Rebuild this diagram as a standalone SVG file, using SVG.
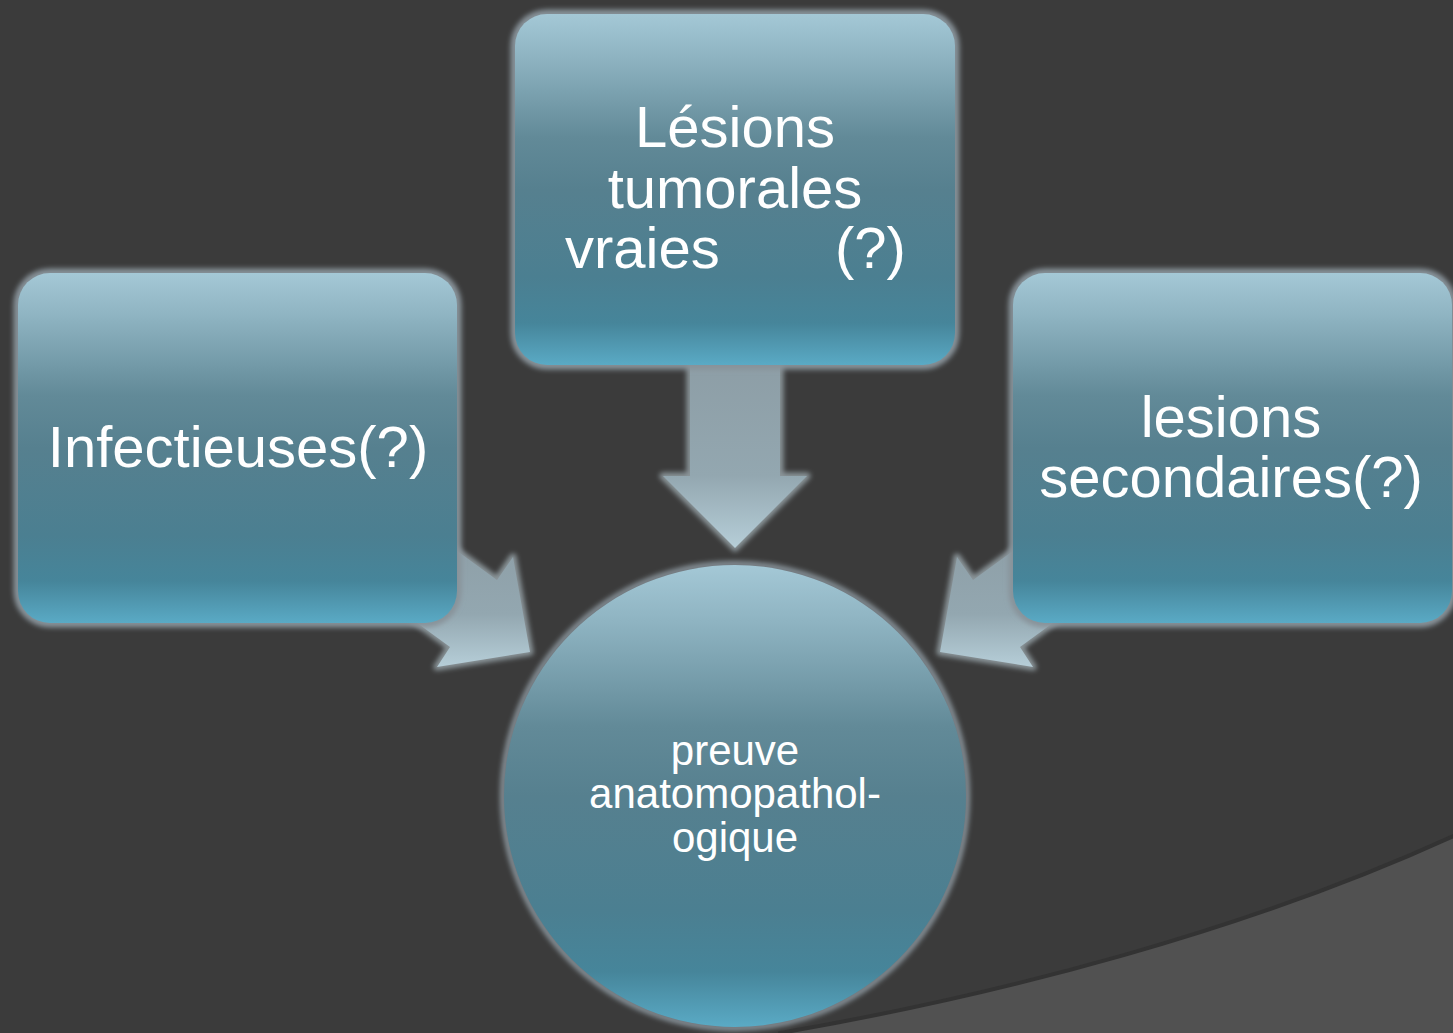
<svg xmlns="http://www.w3.org/2000/svg" width="1453" height="1033" viewBox="0 0 1453 1033">
<defs>
<linearGradient id="nodeGrad" x1="0" y1="0" x2="0" y2="1">
<stop offset="0" stop-color="#a4c8d6"/>
<stop offset="0.12" stop-color="#8fb4c2"/>
<stop offset="0.35" stop-color="#628a98"/>
<stop offset="0.5" stop-color="#56808f"/>
<stop offset="0.75" stop-color="#4b7f91"/>
<stop offset="0.88" stop-color="#46859a"/>
<stop offset="1" stop-color="#5aaac5"/>
</linearGradient>
<linearGradient id="arrowGrad" x1="0" y1="0" x2="0" y2="1">
<stop offset="0" stop-color="#8c9ca4"/>
<stop offset="0.65" stop-color="#93a7b0"/>
<stop offset="1" stop-color="#b6ced8"/>
</linearGradient>
<filter id="glow" x="-10%" y="-10%" width="120%" height="120%">
<feGaussianBlur stdDeviation="2.5"/>
</filter>
<style>
.halo{fill:none;stroke:#88939a;stroke-width:9;filter:url(#glow)}
.node{fill:url(#nodeGrad)}
.arrow{fill:url(#arrowGrad)}
.ahalo{fill:#8a9499;stroke:#8a9499;stroke-width:7;stroke-linejoin:round;filter:url(#glow)}
.big{font-family:"Liberation Sans",Arial,sans-serif;font-size:58px;fill:#ffffff;text-anchor:middle}
.small{font-family:"Liberation Sans",Arial,sans-serif;font-size:42px;fill:#ffffff;text-anchor:middle}
</style>
</defs>
<rect x="0" y="0" width="1453" height="1033" fill="#3b3b3b"/>
<path d="M 780 1040 L 780 1033 C 1000 995, 1250 930, 1460 833 L 1460 1040 Z" fill="#515151" stroke="#333333" stroke-width="4"/>
<g id="connectors">
<g id="arrow-top">
<polygon class="ahalo" points="690,340 780,340 780,476 807,476 735,548 663,476 690,476"/>
<polygon class="arrow" points="690,340 780,340 780,476 807,476 735,548 663,476 690,476"/>
</g>
<g id="arrow-left">
<polygon class="ahalo" points="530,652 513,557 497,580 408,515 361,582 450,647 437,667"/>
<polygon class="arrow" points="530,652 513,557 497,580 408,515 361,582 450,647 437,667"/>
</g>
<g id="arrow-right">
<polygon class="ahalo" points="940,652 957,557 973,580 1062,515 1109,582 1020,647 1033,667"/>
<polygon class="arrow" points="940,652 957,557 973,580 1062,515 1109,582 1020,647 1033,667"/>
</g>
</g>
<g id="node-top">
<rect class="halo" x="515" y="14" width="440" height="351" rx="32"/>
<rect class="node" x="515" y="14" width="440" height="351" rx="32"/>
<text class="big"><tspan x="735" y="147">Lésions</tspan><tspan x="735" y="208">tumorales</tspan><tspan x="565" y="268" text-anchor="start">vraies</tspan><tspan x="835" y="268" text-anchor="start">(?)</tspan></text>
</g>
<g id="node-left">
<rect class="halo" x="18" y="273" width="439" height="350" rx="32"/>
<rect class="node" x="18" y="273" width="439" height="350" rx="32"/>
<text class="big" x="238" y="467">Infectieuses(?)</text>
</g>
<g id="node-right">
<rect class="halo" x="1013" y="273" width="439" height="350" rx="32"/>
<rect class="node" x="1013" y="273" width="439" height="350" rx="32"/>
<text class="big"><tspan x="1231" y="437">lesions</tspan><tspan x="1231" y="497">secondaires(?)</tspan></text>
</g>
<g id="node-center">
<circle cx="735" cy="796" r="232" fill="none" stroke="#88939a" stroke-width="6" filter="url(#glow)"/>
<circle class="node" cx="735" cy="796" r="231"/>
<text class="small"><tspan x="735" y="765">preuve</tspan><tspan x="735" y="808">anatomopathol-</tspan><tspan x="735" y="852">ogique</tspan></text>
</g>
</svg>
